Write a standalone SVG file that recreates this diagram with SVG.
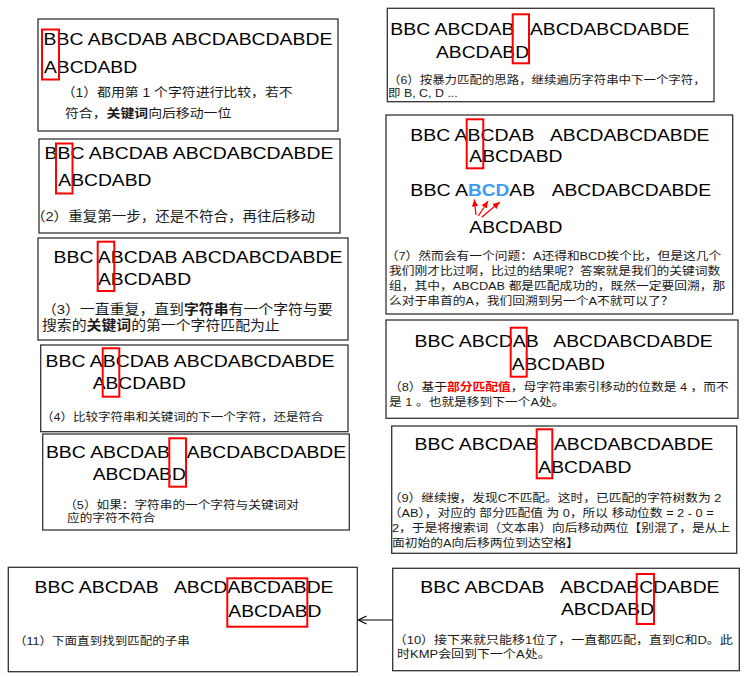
<svg xmlns="http://www.w3.org/2000/svg" width="746" height="677" viewBox="0 0 746 677">
<defs>
<style>
.box{fill:#fff;stroke:#333;stroke-width:1.3}
.hl{fill:none;stroke:#f00;stroke-width:2}
.big{font-family:"Liberation Sans",Arial,sans-serif;font-size:17.2px;fill:#000}
.blue{font-family:"Liberation Sans",Arial,sans-serif;font-size:17.2px;font-weight:bold;fill:#3b9cf5}
.cap{font-family:"Liberation Sans","Noto Sans CJK SC",sans-serif;fill:#1a1a1a}
.b{font-weight:bold}
.rb{font-weight:bold;fill:#f00}
.ra{stroke:#f00;stroke-width:1.3;fill:none}
</style>
<marker id="redtip" markerWidth="8" markerHeight="8" refX="7" refY="4" orient="auto" markerUnits="userSpaceOnUse">
<path d="M0,0.8 L7,4 L0,7.2 Z" fill="#f00"/>
</marker>
<marker id="open" markerWidth="10" markerHeight="10" refX="9" refY="5" orient="auto" markerUnits="userSpaceOnUse">
<path d="M1,1 L9,5 L1,9" fill="none" stroke="#000" stroke-width="1.2"/>
</marker>
</defs>
<rect width="746" height="677" fill="#fff"/>

<g id="n1">
<rect class="box" x="38" y="19" width="300" height="112"/>
<text class="big" x="43.6" y="45" textLength="288.8" lengthAdjust="spacingAndGlyphs">BBC ABCDAB ABCDABCDABDE</text>
<text class="big" x="44" y="73.3" textLength="93.1" lengthAdjust="spacingAndGlyphs">ABCDABD</text>
<rect class="hl" x="42" y="29.5" width="17" height="50"/>
<text class="cap" font-size="12.5" transform="translate(65,96.5) scale(1.11,1)"><tspan x="-3">（1）都用第 1 个字符进行比较，若不</tspan><tspan x="0" dy="22">符合，<tspan class="b">关键词</tspan>向后移动一位</tspan></text>
</g>

<g id="n2">
<rect class="box" x="39" y="139" width="301" height="94"/>
<text class="big" x="44.6" y="159" textLength="288.8" lengthAdjust="spacingAndGlyphs">BBC ABCDAB ABCDABCDABDE</text>
<text class="big" x="58.3" y="186" textLength="93.1" lengthAdjust="spacingAndGlyphs">ABCDABD</text>
<rect class="hl" x="56" y="143.5" width="16.5" height="50"/>
<text class="cap" font-size="13.1" transform="translate(31,221) scale(1.11,1)">（2）重复第一步，还是不符合，再往后移动</text>
</g>

<g id="n3">
<rect class="box" x="38" y="238" width="310" height="102"/>
<text class="big" x="53.6" y="263.3" textLength="288.8" lengthAdjust="spacingAndGlyphs">BBC ABCDAB ABCDABCDABDE</text>
<text class="big" x="98" y="285" textLength="93.1" lengthAdjust="spacingAndGlyphs">ABCDABD</text>
<rect class="hl" x="97.7" y="241.7" width="16.6" height="49.3"/>
<text class="cap" font-size="13.4" transform="translate(42,314) scale(1.11,1)"><tspan x="0">（3）一直重复，直到<tspan class="b">字符串</tspan>有一个字符与要</tspan><tspan x="0" dy="16">搜索的<tspan class="b">关键词</tspan>的第一个字符匹配为止</tspan></text>
</g>

<g id="n4">
<rect class="box" x="40.7" y="345" width="307.3" height="86.7"/>
<text class="big" x="45.6" y="366.7" textLength="288.8" lengthAdjust="spacingAndGlyphs">BBC ABCDAB ABCDABCDABDE</text>
<text class="big" x="92.7" y="389.3" textLength="93.1" lengthAdjust="spacingAndGlyphs">ABCDABD</text>
<rect class="hl" x="102.7" y="348.3" width="16.6" height="48.4"/>
<text class="cap" font-size="11.3" transform="translate(41,421) scale(1.11,1)">（4）比较字符串和关键词的下一个字符，还是符合</text>
</g>

<g id="n5">
<rect class="box" x="42.7" y="434" width="306.6" height="96"/>
<text class="big" x="45.9" y="458.3" textLength="124.1" lengthAdjust="spacingAndGlyphs">BBC ABCDAB</text>
<text class="big" x="186.7" y="458.3" textLength="159.4" lengthAdjust="spacingAndGlyphs">ABCDABCDABDE</text>
<text class="big" x="92.7" y="480" textLength="93.1" lengthAdjust="spacingAndGlyphs">ABCDABD</text>
<rect class="hl" x="169.3" y="438.3" width="16.7" height="48.4"/>
<text class="cap" font-size="11.4" transform="translate(67,508.5) scale(1.11,1)"><tspan x="-2.5">（5）如果：字符串的一个字符与关键词对</tspan><tspan x="0" dy="14">应的字符不符合</tspan></text>
</g>

<g id="n6">
<rect class="box" x="387.3" y="8.3" width="326.7" height="93.4"/>
<text class="big" x="390.3" y="35" textLength="124.1" lengthAdjust="spacingAndGlyphs">BBC ABCDAB</text>
<text class="big" x="530" y="35" textLength="159.4" lengthAdjust="spacingAndGlyphs">ABCDABCDABDE</text>
<text class="big" x="436" y="58.3" textLength="93.1" lengthAdjust="spacingAndGlyphs">ABCDABD</text>
<rect class="hl" x="512.7" y="14.3" width="16.3" height="49"/>
<text class="cap" font-size="11.2" transform="translate(388,83.5) scale(1.11,1)"><tspan x="0">（6）按暴力匹配的思路，继续遍历字符串中下一个字符，</tspan><tspan x="0" dy="14">即 B, C, D ...</tspan></text>
</g>

<g id="n7">
<rect class="box" x="386" y="115" width="346.7" height="199"/>
<text class="big" x="410.3" y="140.7" textLength="124.1" lengthAdjust="spacingAndGlyphs">BBC ABCDAB</text>
<text class="big" x="550" y="140.7" textLength="159.4" lengthAdjust="spacingAndGlyphs">ABCDABCDABDE</text>
<text class="big" x="469.3" y="161.7" textLength="93.1" lengthAdjust="spacingAndGlyphs">ABCDABD</text>
<rect class="hl" x="466.7" y="119.3" width="16.6" height="49"/>
<text class="big" x="410.3" y="196" textLength="57.8" lengthAdjust="spacingAndGlyphs">BBC A</text>
<text class="blue" x="468.1" y="196" textLength="41.2" lengthAdjust="spacingAndGlyphs">BCD</text>
<text class="big" x="509.3" y="196" textLength="25.7" lengthAdjust="spacingAndGlyphs">AB</text>
<text class="big" x="551.7" y="196" textLength="159.4" lengthAdjust="spacingAndGlyphs">ABCDABCDABDE</text>
<text class="big" x="469.3" y="233.3" textLength="93.1" lengthAdjust="spacingAndGlyphs">ABCDABD</text>
<text class="cap" font-size="11.5" transform="translate(389,260) scale(1.11,1)"><tspan x="-3">（7）然而会有一个问题：A还得和BCD挨个比，但是这几个</tspan><tspan x="0" dy="15">我们刚才比过啊，比过的结果呢？答案就是我们的关键词数</tspan><tspan x="0" dy="15">组，其中，ABCDAB 都是匹配成功的，既然一定要回溯，那</tspan><tspan x="0" dy="15">么对于串首的A，我们回溯到另一个A不就可以了？</tspan></text>
</g>

<g id="n8">
<rect class="box" x="386" y="320" width="352" height="98.3"/>
<text class="big" x="414.6" y="347.3" textLength="124.1" lengthAdjust="spacingAndGlyphs">BBC ABCDAB</text>
<text class="big" x="553.3" y="347.3" textLength="159.4" lengthAdjust="spacingAndGlyphs">ABCDABCDABDE</text>
<text class="big" x="511.7" y="370" textLength="93.1" lengthAdjust="spacingAndGlyphs">ABCDABD</text>
<rect class="hl" x="510.7" y="327.7" width="16" height="49"/>
<text class="cap" font-size="11.5" transform="translate(389,391) scale(1.11,1)"><tspan x="0">（8）基于<tspan class="rb">部分匹配值</tspan>，母字符串索引移动的位数是 4 ，而不</tspan><tspan x="0" dy="15">是 1 。也就是移到下一个A处。</tspan></text>
</g>

<g id="n9">
<rect class="box" x="391.7" y="426" width="345" height="127.3"/>
<text class="big" x="414.6" y="450" textLength="124.1" lengthAdjust="spacingAndGlyphs">BBC ABCDAB</text>
<text class="big" x="554" y="450" textLength="159.4" lengthAdjust="spacingAndGlyphs">ABCDABCDABDE</text>
<text class="big" x="538.3" y="473.3" textLength="93.1" lengthAdjust="spacingAndGlyphs">ABCDABD</text>
<rect class="hl" x="536.7" y="429.3" width="15.6" height="49"/>
<text class="cap" font-size="11.5" transform="translate(392,502) scale(1.11,1)"><tspan x="-3">（9）继续搜，发现C不匹配。这时，已匹配的字符树数为 2</tspan><tspan x="-3" dy="15">（AB），对应的 部分匹配值 为 0，所以 移动位数 = 2 - 0 =</tspan><tspan x="0" dy="15">2，于是将搜索词（文本串）向后移动两位【别混了，是从上</tspan><tspan x="0" dy="15">面初始的A向后移两位到达空格】</tspan></text>
</g>

<g id="n10">
<rect class="box" x="392.7" y="568.3" width="346.6" height="102.4"/>
<text class="big" x="420.3" y="593.3" textLength="124.1" lengthAdjust="spacingAndGlyphs">BBC ABCDAB</text>
<text class="big" x="560" y="593.3" textLength="159.4" lengthAdjust="spacingAndGlyphs">ABCDABCDABDE</text>
<text class="big" x="561" y="615" textLength="93.1" lengthAdjust="spacingAndGlyphs">ABCDABD</text>
<rect class="hl" x="636.7" y="574" width="17.3" height="50"/>
<text class="cap" font-size="11.7" transform="translate(397,643.5) scale(1.11,1)"><tspan x="-3">（10）接下来就只能移1位了，一直都匹配，直到C和D。此</tspan><tspan x="0" dy="15">时KMP会回到下一个A处。</tspan></text>
</g>

<g id="n11">
<rect class="box" x="8.3" y="567.3" width="349" height="104.4"/>
<text class="big" x="34.6" y="593.3" textLength="124.1" lengthAdjust="spacingAndGlyphs">BBC ABCDAB</text>
<text class="big" x="174" y="593.3" textLength="159.4" lengthAdjust="spacingAndGlyphs">ABCDABCDABDE</text>
<text class="big" x="228.3" y="616.7" textLength="93.1" lengthAdjust="spacingAndGlyphs">ABCDABD</text>
<rect class="hl" x="227.3" y="578.3" width="80" height="48.4"/>
<text class="cap" font-size="11.3" transform="translate(14,645) scale(1.11,1)">（11）下面直到找到匹配的子串</text>
</g>

<g id="connectors">
<line x1="476" y1="215" x2="474.3" y2="199.5" class="ra" marker-end="url(#redtip)"/>
<line x1="478.3" y1="216" x2="488" y2="201" class="ra" marker-end="url(#redtip)"/>
<line x1="481.7" y1="217.3" x2="499.7" y2="202" class="ra" marker-end="url(#redtip)"/>
<line x1="392.7" y1="620" x2="358.5" y2="620" stroke="#000" stroke-width="1.2" marker-end="url(#open)"/>
</g>
</svg>
